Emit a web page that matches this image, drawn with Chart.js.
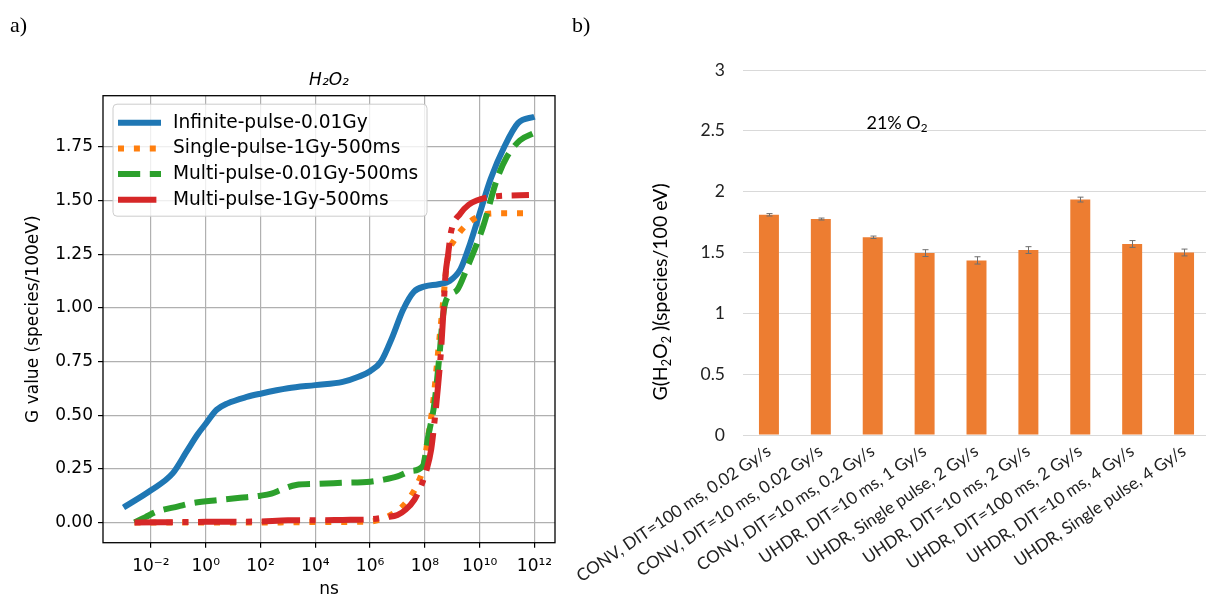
<!DOCTYPE html>
<html><head><meta charset="utf-8">
<script src="https://cdn.jsdelivr.net/npm/chart.js@4.4.1/dist/chart.umd.min.js"></script>
<style>
html,body{margin:0;padding:0;background:#fff;overflow:hidden;width:1206px;height:606px;}
#wrapA{position:absolute;left:0;top:0;width:565px;height:606px;}
#wrapB{position:absolute;left:560px;top:0;width:660px;height:606px;}
.lbl{position:absolute;font-family:"Liberation Serif";font-size:22px;line-height:1;z-index:5;color:#000;}
</style></head><body>
<div id="wrapA"><canvas id="cA" width="565" height="606"></canvas></div>
<div id="wrapB"><canvas id="cB" width="660" height="606"></canvas></div>
<div class="lbl" style="left:10px;top:14px">a)</div>
<div class="lbl" style="left:572px;top:14px">b)</div>
<script>
// ---------- Panel a) data : time as log10(ns), G value ----------
const xTickExps = [-2, 0, 2, 4, 6, 8, 10, 12];
const yTicksA = [0, 0.25, 0.5, 0.75, 1.0, 1.25, 1.5, 1.75];

const infiniteT = [-3.0, -2.0, -1.2, -0.7, -0.3, 0.0, 0.4, 0.8, 1.5, 2.0, 3.0, 4.0, 5.0, 5.6, 6.0, 6.4, 6.8, 7.2, 7.6, 8.0, 8.5, 8.9, 9.3, 9.6, 10.0, 10.4, 10.9, 11.4, 12.0];
const infiniteG = [0.07, 0.15, 0.23, 0.33, 0.41, 0.46, 0.525, 0.555, 0.585, 0.60, 0.625, 0.64, 0.655, 0.68, 0.705, 0.75, 0.86, 0.99, 1.075, 1.10, 1.11, 1.125, 1.18, 1.28, 1.44, 1.60, 1.75, 1.86, 1.89];

const singleT = [-2.6, 0.0, 2.0, 4.0, 6.0, 6.5, 7.0, 7.4, 7.75, 7.95, 8.12, 8.3, 8.42, 8.54, 8.66, 8.78, 8.9, 9.08, 9.46, 9.95, 10.56, 11.8];
const singleG = [0.0, 0.0, 0.0, 0.002, 0.005, 0.02, 0.055, 0.107, 0.185, 0.26, 0.40, 0.557, 0.71, 0.867, 1.02, 1.18, 1.27, 1.316, 1.38, 1.425, 1.44, 1.44];

const multiLowT = [-2.6, -2.2, -1.8, -1.0, -0.5, 0.5, 1.25, 2.0, 2.4, 2.8, 3.3, 4.0, 5.0, 6.0, 6.5, 7.0, 7.5, 7.92, 8.12, 8.35, 8.54, 8.66, 8.78, 9.18, 9.52, 10.13, 10.62, 10.98, 11.47, 12.0];
const multiLowG = [0.0, 0.025, 0.05, 0.075, 0.09, 0.105, 0.115, 0.125, 0.135, 0.155, 0.175, 0.18, 0.185, 0.19, 0.20, 0.215, 0.24, 0.262, 0.40, 0.557, 0.79, 0.96, 1.037, 1.084, 1.18, 1.38, 1.595, 1.70, 1.78, 1.815];

const multiHighT = [-2.6, 0.0, 2.0, 3.0, 4.0, 5.0, 6.0, 6.6, 7.0, 7.3, 7.62, 7.86, 8.05, 8.23, 8.36, 8.48, 8.6, 8.68, 8.75, 8.85, 8.95, 9.3, 9.6, 9.89, 10.62, 11.8];
const multiHighG = [0.0, 0.003, 0.005, 0.01, 0.01, 0.012, 0.015, 0.025, 0.035, 0.06, 0.107, 0.17, 0.24, 0.34, 0.48, 0.634, 0.82, 0.99, 1.15, 1.25, 1.35, 1.44, 1.48, 1.50, 1.52, 1.525];

// ---------- Panel b) data ----------
const barCategories = ['CONV, DIT=100 ms, 0.02 Gy/s', 'CONV, DIT=10 ms, 0.02 Gy/s', 'CONV, DIT=10 ms, 0.2 Gy/s', 'UHDR, DIT=10 ms, 1 Gy/s', 'UHDR, Single pulse, 2 Gy/s', 'UHDR, DIT=10 ms, 2 Gy/s', 'UHDR, DIT=100 ms, 2 Gy/s', 'UHDR, DIT=10 ms, 4 Gy/s', 'UHDR, Single pulse, 4 Gy/s'];
const barValues = [1.81, 1.775, 1.625, 1.495, 1.435, 1.52, 1.935, 1.57, 1.50];
const barErrors = [0.01, 0.008, 0.01, 0.028, 0.03, 0.028, 0.02, 0.028, 0.028];
const yTicksB = [0, 0.5, 1, 1.5, 2, 2.5, 3];

// ---------- helpers ----------
const SUP = {'0':'⁰','1':'¹','2':'²','3':'³','4':'⁴','5':'⁵','6':'⁶','7':'⁷','8':'⁸','9':'⁹','-':'⁻'};
const sup = s => String(s).split('').map(c => SUP[c] || c).join('');
const toPts = (t, g) => t.map((e, i) => ({x: Math.pow(10, e), y: g[i]}));

function drawRich(ctx, segs, cx, cy, size, family, color) {
  let total = 0;
  const ws = segs.map(([t, s]) => { ctx.font = (s ? size * 0.65 : size) + 'px ' + family; const w = ctx.measureText(t).width; total += w; return w; });
  let x = cx - total / 2;
  ctx.fillStyle = color; ctx.textBaseline = 'middle'; ctx.textAlign = 'left';
  segs.forEach(([t, s], i) => {
    ctx.font = (s ? size * 0.65 : size) + 'px ' + family;
    ctx.fillText(t, x, cy + (s ? size * 0.3 : 0));
    x += ws[i];
  });
}

// ---------- Panel a) ----------
const legendA = {
  id: 'legendA',
  afterDatasetsDraw(chart) {
    const ctx = chart.ctx, a = chart.chartArea;
    const x0 = a.left + 10, y0 = a.top + 8.5, w = 314, h = 112, r = 4;
    ctx.save();
    ctx.beginPath();
    ctx.moveTo(x0 + r, y0); ctx.lineTo(x0 + w - r, y0); ctx.arcTo(x0 + w, y0, x0 + w, y0 + r, r);
    ctx.lineTo(x0 + w, y0 + h - r); ctx.arcTo(x0 + w, y0 + h, x0 + w - r, y0 + h, r);
    ctx.lineTo(x0 + r, y0 + h); ctx.arcTo(x0, y0 + h, x0, y0 + h - r, r);
    ctx.lineTo(x0, y0 + r); ctx.arcTo(x0, y0, x0 + r, y0, r); ctx.closePath();
    ctx.fillStyle = 'rgba(255,255,255,0.8)'; ctx.fill();
    ctx.strokeStyle = '#cccccc'; ctx.lineWidth = 1; ctx.stroke();
    chart.data.datasets.forEach((ds, i) => {
      const cy = y0 + 18.5 + i * 25.7;
      ctx.beginPath(); ctx.setLineDash(ds.borderDash || []); ctx.lineWidth = ds.borderWidth;
      ctx.strokeStyle = ds.borderColor; ctx.lineCap = 'butt';
      ctx.moveTo(x0 + 5, cy); ctx.lineTo(x0 + 48, cy); ctx.stroke();
      ctx.setLineDash([]);
      ctx.fillStyle = '#000'; ctx.font = '18.6px "DejaVu Sans"'; ctx.textBaseline = 'middle'; ctx.textAlign = 'left';
      ctx.fillText(ds.label, x0 + 60, cy);
    });
    ctx.restore();
  },
  afterDraw(chart) {
    const ctx = chart.ctx, a = chart.chartArea;
    ctx.save(); ctx.strokeStyle = '#000'; ctx.lineWidth = 1.3; ctx.setLineDash([]);
    ctx.strokeRect(a.left, a.top, a.right - a.left, a.bottom - a.top);
    ctx.restore();
  }
};

new Chart(document.getElementById('cA'), {
  type: 'line',
  data: { datasets: [
    {label: 'Infinite-pulse-0.01Gy', data: toPts(infiniteT, infiniteG), borderColor: '#1f77b4', borderWidth: 6, borderDash: [], order: 3},
    {label: 'Single-pulse-1Gy-500ms', data: toPts(singleT, singleG), borderColor: '#ff7f0e', borderWidth: 6, borderDash: [6, 9.9], order: 2},
    {label: 'Multi-pulse-0.01Gy-500ms', data: toPts(multiLowT, multiLowG), borderColor: '#2ca02c', borderWidth: 6, borderDash: [22.2, 9.6], order: 1},
    {label: 'Multi-pulse-1Gy-500ms', data: toPts(multiHighT, multiHighG), borderColor: '#d62728', borderWidth: 6, borderDash: [38.4, 9.6, 6, 9.6], order: 0}
  ]},
  options: {
    responsive: false, animation: false,
    layout: {padding: {left: 0, right: 10, top: 0, bottom: 6}},
    elements: {point: {radius: 0}, line: {cubicInterpolationMode: 'monotone', fill: false, borderCapStyle: 'butt'}},
    plugins: {
      legend: {display: false}, tooltip: {enabled: false},
      title: {display: true, text: 'H₂O₂', fullSize: false, color: '#000',
        font: {family: 'DejaVu Sans', size: 17, style: 'italic', weight: 'normal'}, padding: {top: 70, bottom: 5.3}}
    },
    scales: {
      x: {
        type: 'logarithmic', bounds: 'data', min: Math.pow(10, -3.75), max: Math.pow(10, 12.75),
        afterBuildTicks: s => { s.ticks = xTickExps.map(e => ({value: Math.pow(10, e)})); },
        ticks: {callback: v => '10' + sup(Math.round(Math.log10(v))), font: {family: 'DejaVu Sans', size: 17}, color: '#000', padding: 9, maxRotation: 0, autoSkip: false},
        grid: {color: '#b0b0b0', lineWidth: 1.2, tickColor: '#000', tickLength: 5, tickWidth: 1.2, drawTicks: true},
        border: {display: false},
        title: {display: true, text: 'ns', color: '#000', font: {family: 'DejaVu Sans', size: 17}, padding: {top: 0, bottom: 0}},
        afterFit: s => { s.height = 57.3; }
      },
      y: {
        type: 'linear', bounds: 'data', min: -0.094, max: 1.988,
        afterBuildTicks: s => { s.ticks = yTicksA.map(v => ({value: v})); },
        ticks: {callback: v => Number(v).toFixed(2), font: {family: 'DejaVu Sans', size: 17}, color: '#000', padding: 5},
        grid: {color: '#b0b0b0', lineWidth: 1.2, tickColor: '#000', tickLength: 5, tickWidth: 1.2, drawTicks: true},
        border: {display: false},
        title: {display: true, text: 'G value (species/100eV)', color: '#000', font: {family: 'DejaVu Sans', size: 17}, padding: {top: 23, bottom: 0}},
        afterFit: s => { s.width = 103; }
      }
    }
  },
  plugins: [legendA]
});

// ---------- Panel b) ----------
const extrasB = {
  id: 'extrasB',
  afterDatasetsDraw(chart) {
    const ctx = chart.ctx, xs = chart.scales.x, ys = chart.scales.y;
    ctx.save();
    ctx.strokeStyle = '#6f6f6f'; ctx.lineWidth = 1;
    barValues.forEach((v, i) => {
      const x = Math.round(xs.getPixelForValue(i)) + 0.5;
      const yt = ys.getPixelForValue(v + barErrors[i]), yb = ys.getPixelForValue(v - barErrors[i]);
      ctx.beginPath();
      ctx.moveTo(x, yt); ctx.lineTo(x, yb);
      ctx.moveTo(x - 3, yt); ctx.lineTo(x + 3, yt);
      ctx.moveTo(x - 3, yb); ctx.lineTo(x + 3, yb);
      ctx.stroke();
    });
    // annotation
    drawRich(ctx, [['21% O', false], ['2', true]], 337, 123, 18, 'Lato', '#000');
    // y-axis title
    ctx.translate(101, 292); ctx.rotate(-Math.PI / 2);
    drawRich(ctx, [['G(H', false], ['2', true], ['O', false], ['2', true], [' )(species/100 eV)', false]], 0, 0, 19.5, 'Lato', '#000');
    ctx.restore();
  }
};

new Chart(document.getElementById('cB'), {
  type: 'bar',
  data: { labels: barCategories, datasets: [{data: barValues, backgroundColor: '#ED7D31', borderColor: '#F4B183', borderWidth: 0, barPercentage: 0.385, categoryPercentage: 1}] },
  options: {
    responsive: false, animation: false,
    layout: {padding: {left: 0, right: 10, top: 70, bottom: 0}},
    plugins: {legend: {display: false}, tooltip: {enabled: false}},
    scales: {
      x: {
        grid: {display: false, drawTicks: false}, border: {display: false},
        ticks: {minRotation: 34, maxRotation: 34, autoSkip: false, font: {family: 'Lato', size: 17}, color: '#222', padding: 6},
        afterFit: s => { s.height = 171; }
      },
      y: {
        min: 0, max: 3, bounds: 'data',
        afterBuildTicks: s => { s.ticks = yTicksB.map(v => ({value: v})); },
        ticks: {callback: v => String(v), font: {family: 'Lato', size: 17.5}, color: '#222', padding: 18},
        grid: {color: '#d9d9d9', lineWidth: 1, drawTicks: false},
        border: {display: false},
        afterFit: s => { s.width = 183; }
      }
    }
  },
  plugins: [extrasB]
});
</script>
</body></html>
